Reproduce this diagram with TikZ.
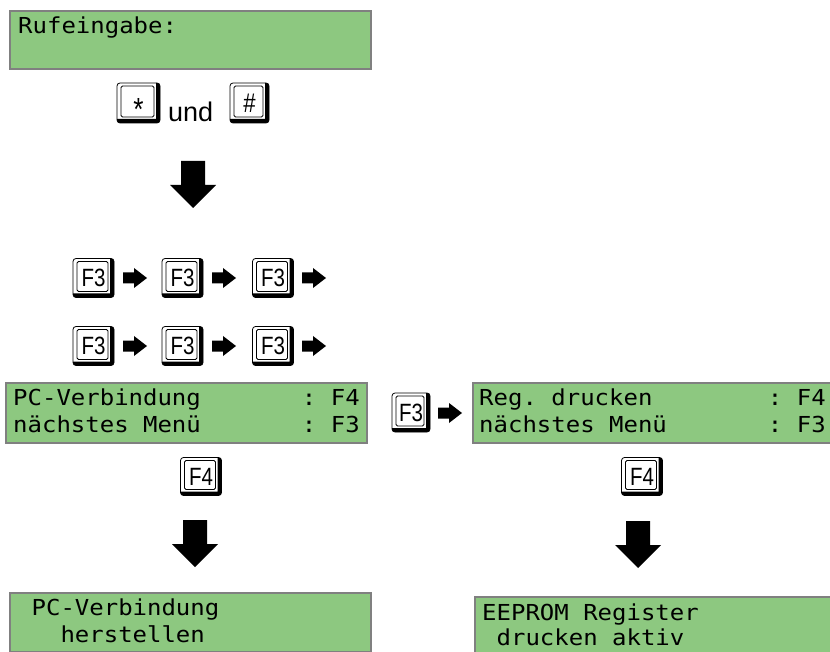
\documentclass[tikz,border=0pt]{standalone}
\usepackage{fontspec}
\setmainfont{Liberation Sans}
\newfontfamily\lcdfont[FakeStretch=1.09]{DejaVu Sans Mono}
\newfontfamily\keyfontfam[FakeStretch=0.82]{Liberation Sans}
\usetikzlibrary{calc}
\definecolor{lcdgreen}{RGB}{141,200,128}
\definecolor{lcdframe}{RGB}{128,128,128}
\begin{document}
\begin{tikzpicture}[x=1pt,y=-1pt,
  lcd/.style={draw=lcdframe, line width=2, fill=lcdgreen, minimum width=361, minimum height=#1, anchor=north west, inner sep=0},
  lcdtext/.style={anchor=base west, inner sep=0, font=\lcdfont\fontsize{22}{27}\selectfont\frenchspacing},
  keycap/.style={draw=black, line width=0.8, fill=white, rounded corners=3, minimum width=41, minimum height=39, inner sep=0,
     font=\keyfontfam\fontsize{25}{25}\selectfont,
     path picture={
       \draw[line width=8] (path picture bounding box.north east) -- (path picture bounding box.south east) -- (path picture bounding box.south west);
       \draw[line width=0.8, rounded corners=1.5] ($(path picture bounding box.north west)+(4,3)$) rectangle ($(path picture bounding box.south east)+(-6,-6)$);
     }},
  rarrow/.pic={\fill[black] (-12,-5.5) -- (-1,-5.5) -- (-1,-10) -- (12,0) -- (-1,10) -- (-1,5.5) -- (-12,5.5) -- cycle;},
  darrow/.pic={\fill[black] (-12,-23.5) -- (12,-23.5) -- (12,0.5) -- (23,0.5) -- (0,23.5) -- (-23,0.5) -- (-12,0.5) -- cycle;}
]
\path[use as bounding box, clip] (0,0) rectangle (830,652);

% top display
\node[lcd=58] (b0) at (9,10) {};
\node[lcdtext] (t0) at ($(b0.north west)+(9,24)$) {Rufeingabe:};

% * und #
\node[keycap, minimum width=43, minimum height=40, font=\keyfontfam\fontsize{32}{32}\selectfont, text height=36, text depth=0] (kstar) at (138.5,103) {*};
\node[anchor=base west, inner sep=0, font=\fontsize{27}{27}\selectfont] (und) at (168,122) {und};
\node[keycap, minimum width=39, minimum height=40, font=\keyfontfam\fontsize{27}{27}\selectfont] (khash) at (249.5,103) {\#};

\pic (a0) at (193,184.5) {darrow};

% F3 rows
\foreach \r/\yy in {1/278, 2/346}{
  \node[keycap] (k\r a) at (93.5,\yy) {F3};
  \pic (r\r a) at (135,\yy) {rarrow};
  \node[keycap] (k\r b) at (182.5,\yy) {F3};
  \pic (r\r b) at (224,\yy) {rarrow};
  \node[keycap] (k\r c) at (273,\yy) {F3};
  \pic (r\r c) at (314,\yy) {rarrow};
}

% middle displays
\node[lcd=60] (b1) at (5,382) {};
\node[lcdtext] (t1a) at ($(b1.north west)+(8,23)$) {PC-Verbindung~~~~~~~:~F4};
\node[lcdtext] (t1b) at ($(b1.north west)+(8,50)$) {nächstes~Menü~~~~~~~:~F3};

\node[keycap, minimum width=38] (km) at (411,412.5) {F3};
\pic (rm) at (450,413) {rarrow};

\node[lcd=60] (b2) at (472,382) {};
\node[lcdtext] (t2a) at ($(b2.north west)+(7,23)$) {Reg.~drucken~~~~~~~~:~F4};
\node[lcdtext] (t2b) at ($(b2.north west)+(7,50)$) {nächstes~Menü~~~~~~~:~F3};

% F4 keys
\node[keycap, minimum height=38] (f4l) at (201,476.5) {F4};
\node[keycap, minimum height=38] (f4r) at (642,476.5) {F4};

\pic (a1) at (195,543.5) {darrow};
\pic (a2) at (638,544.5) {darrow};

% bottom displays
\node[lcd=59] (b3) at (9,592) {};
\node[lcdtext] (t3a) at ($(b3.north west)+(8,23)$) {~PC-Verbindung};
\node[lcdtext] (t3b) at ($(b3.north west)+(8,50)$) {~~~herstellen};

\node[lcd=60] (b4) at (474,596) {};
\node[lcdtext] (t4a) at ($(b4.north west)+(8,24)$) {EEPROM~Register};
\node[lcdtext] (t4b) at ($(b4.north west)+(8,49)$) {~drucken~aktiv};
\end{tikzpicture}
\end{document}
